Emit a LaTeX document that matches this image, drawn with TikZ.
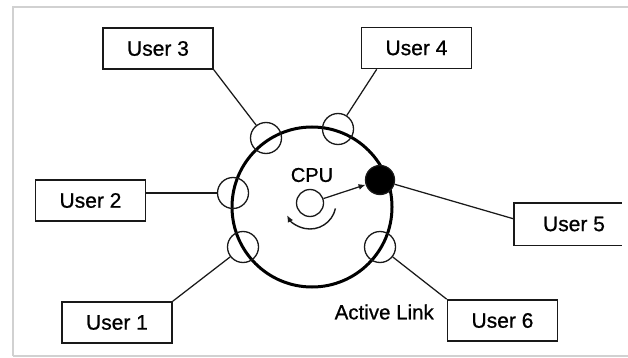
\documentclass[tikz,border=0pt]{standalone}
\usepackage{fontspec}
\setmainfont{Liberation Sans}[FakeBold=0.8]
\usetikzlibrary{arrows.meta}
\begin{document}
\begin{tikzpicture}[x=1pt,y=-1pt,
  userbox/.style={draw=black!90,line width=1.6pt,minimum width=110pt,minimum height=41pt,inner sep=0pt,font=\fontsize{21}{23}\selectfont},
  port/.style={circle,draw=black!90,line width=1.3pt,minimum size=31pt,inner sep=0pt},
  link/.style={draw=black!90,line width=1.25pt},
  frameline/.style={draw=black!18,line width=1.4pt}]
\useasboundingbox (0,0) rectangle (628,358);
% frame
\draw[frameline] (13,356) -- (13,7) -- (628,7);
\draw[frameline] (13,356) -- (628,356);
% ring
\node[circle,draw=black,line width=3pt,minimum size=160pt,inner sep=0pt] (ring) at (312,207) {};
% ports
\node[port] (c3) at (266,138) {};
\node[port] (c4) at (338,129) {};
\node[port] (c2) at (233,193) {};
\node[port,fill=black,minimum size=29pt] (c5) at (380,180) {};
\node[port] (c1) at (243,247) {};
\node[port] (c6) at (380,247) {};
% cpu
\node[circle,draw=black!90,line width=1.3pt,minimum size=27pt,inner sep=0pt] (cpu) at (310,203) {};
\node[font=\fontsize{20}{22}\selectfont] (cpulabel) at (312,175) {CPU};
\draw[link,-{Latex[length=7pt,width=6pt]}] (cpu) -- (c5);
\draw[link,line width=1.4pt,-{Latex[length=7pt,width=6pt]}] (cpu.center) ++(12:26) arc[start angle=12,end angle=152,radius=26];
% user boxes
\node[userbox] (u3) at (158,48.5) {User 3};
\node[userbox] (u4) at (416.5,48) {User 4};
\node[userbox] (u2) at (90.5,200.5) {User 2};
\node[userbox,draw=none,minimum width=106pt] (u5) at (568,224) {\hspace*{12pt}User 5};
\draw[draw=black!90,line width=1.6pt] (u5.north east) -- (u5.north west) -- (u5.south west) -- (u5.south east);
\node[userbox] (u1) at (117,322.5) {User 1};
\node[userbox] (u6) at (502.5,320.5) {User 6};
\node[anchor=east,font=\fontsize{20.5}{22}\selectfont,inner sep=0pt] (active) at (434,312) {Active Link};
% connectors
\draw[link] (u3.south east) -- (c3);
\draw[link] ([xshift=16pt]u4.south west) -- (c4);
\draw[link] (u2.east |- c2) -- (c2);
\draw[link] (c5) -- ([yshift=5pt]u5.west);
\draw[link] (u1.north east) -- (c1);
\draw[link] (u6.north west) -- (c6);
\end{tikzpicture}
\end{document}
